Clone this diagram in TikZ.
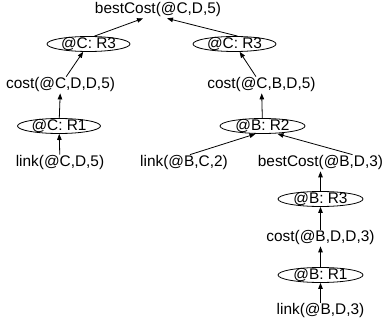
\documentclass[tikz,border=0pt]{standalone}
\usepackage{fontspec}
\setmainfont{Liberation Sans}
\usetikzlibrary{shapes.geometric,arrows.meta}
\begin{document}
\begin{tikzpicture}[x=1pt,y=1pt,
  every node/.style={font=\fontsize{15.4}{18}\selectfont},
  txt/.style={inner sep=1pt},
  rule/.style={draw, line width=0.8pt, ellipse, inner xsep=0pt, inner ysep=-3pt, minimum width=83pt, minimum height=15pt},
  arr/.style={line width=0.8pt, -{Triangle[length=6pt,width=4.5pt]}}]
\useasboundingbox (0,0) rectangle (385,-326);
\node[txt] (top) at (158,-10) {bestCost(@C,D,5)};
\node[rule] (e1) at (88.5,-44) {@C: R3};
\node[rule] (e2) at (234.5,-44) {@C: R3};
\node[txt] (c1) at (60.5,-85) {cost(@C,D,D,5)};
\node[txt] (c2) at (261.5,-85) {cost(@C,B,D,5)};
\node[rule] (e3) at (59,-126) {@C: R1};
\node[rule, minimum width=85pt] (e4) at (262.5,-126) {@B: R2};
\node[txt] (l1) at (60,-163) {link(@C,D,5)};
\node[txt] (l2) at (184,-163) {link(@B,C,2)};
\node[txt] (b3) at (320.5,-163) {bestCost(@B,D,3)};
\node[rule, minimum width=85pt] (e5) at (320.5,-199) {@B: R3};
\node[txt] (c3) at (320.5,-238) {cost(@B,D,D,3)};
\node[rule, minimum width=85pt] (e6) at (320.5,-275) {@B: R1};
\node[txt] (l3) at (320.5,-311) {link(@B,D,3)};
\draw[arr] ([xshift=6pt]e1.north) -- ([xshift=-15pt]top.south);
\draw[arr] ([xshift=3pt]e2.north) -- ([xshift=9pt]top.south);
\draw[arr] (c1) -- (e1);
\draw[arr] (c2) -- (e2);
\draw[arr] (e3) -- (c1);
\draw[arr] (l1) -- (e3);
\draw[arr] (e4) -- (c2);
\draw[arr] ([xshift=6pt]l2.north) -- ([xshift=-7pt]e4.south);
\draw[arr] ([xshift=32pt]b3.north) -- ([xshift=15pt]e4.south);
\draw[arr] (e5) -- (b3);
\draw[arr] (c3) -- (e5);
\draw[arr] (e6) -- (c3);
\draw[arr] (l3) -- (e6);
\end{tikzpicture}
\end{document}
